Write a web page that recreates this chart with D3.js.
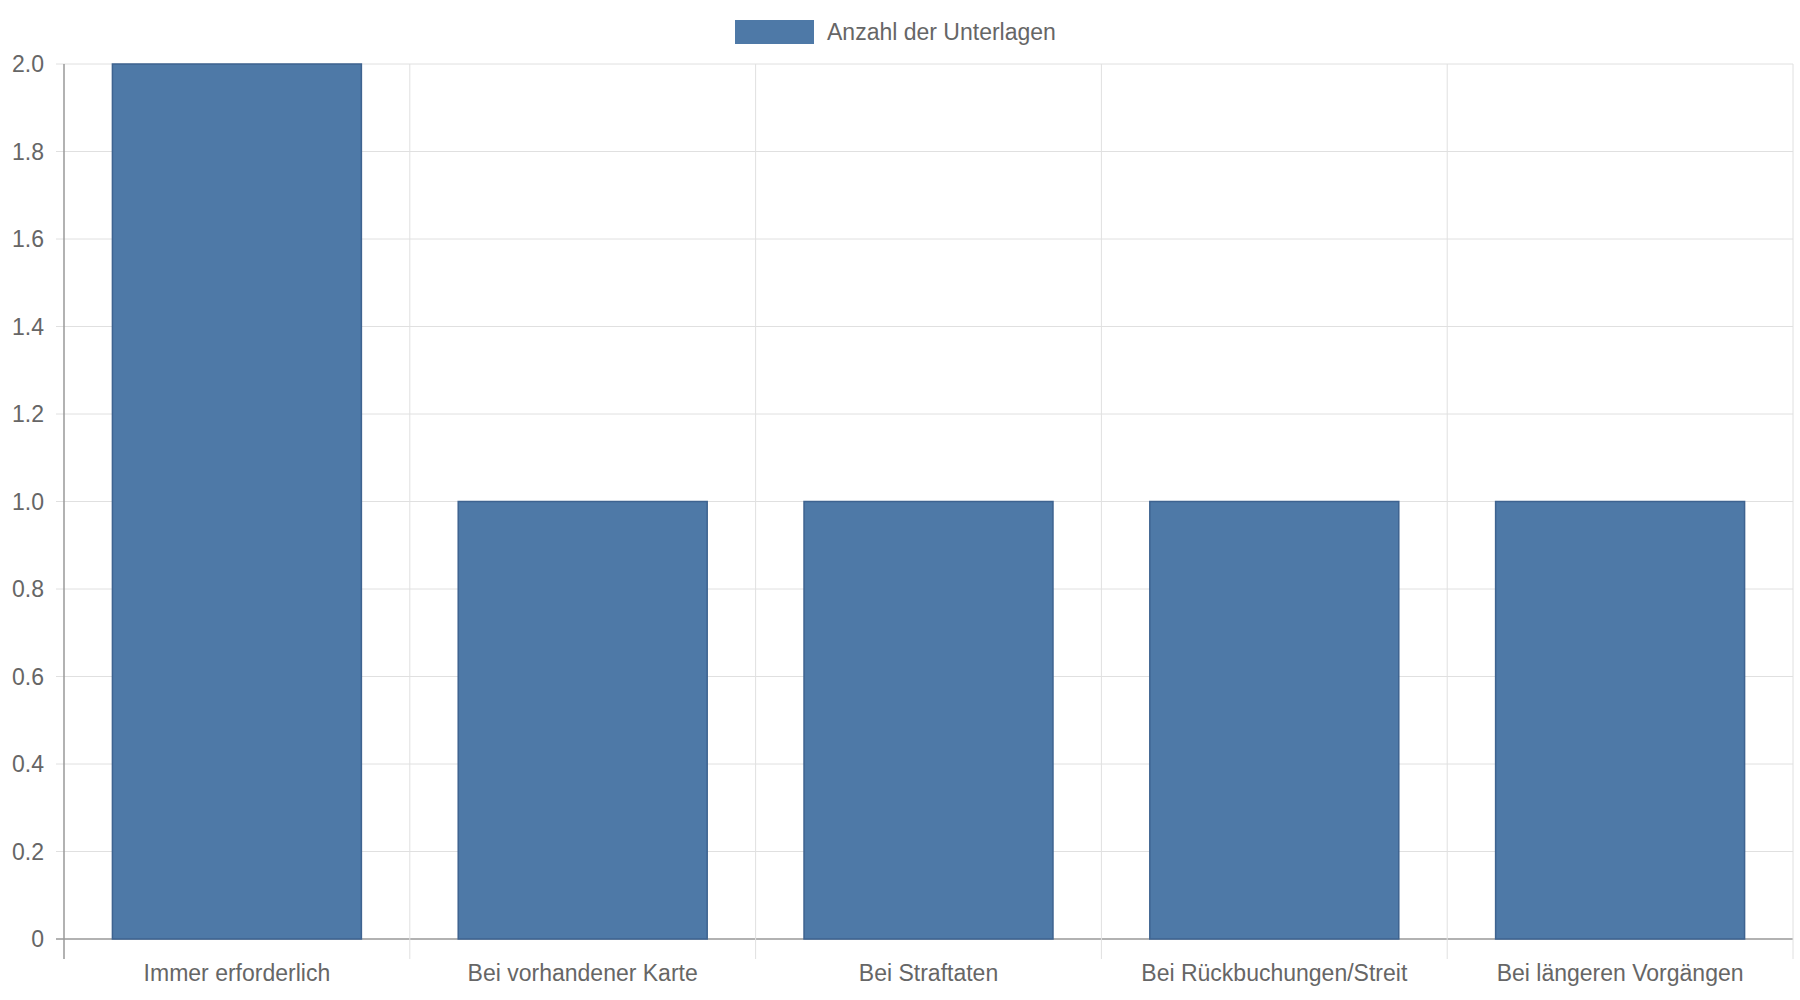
<!DOCTYPE html>
<html><head><meta charset="utf-8">
<script src="https://cdn.jsdelivr.net/npm/d3@7"></script>
<style>body{margin:0;background:#fff}text{font-family:"Liberation Sans",Arial,sans-serif;fill:#666}</style>
</head><body><svg id="c" width="1800" height="1000"></svg>
<script>
const categories=["Immer erforderlich","Bei vorhandener Karte","Bei Straftaten","Bei Rückbuchungen/Streit","Bei längeren Vorgängen"];
const values=[2,1,1,1,1];
const yTicks=[0,0.2,0.4,0.6,0.8,1.0,1.2,1.4,1.6,1.8,2.0];
const seriesName="Anzahl der Unterlagen";
const svg=d3.select("#c");
const L=64,R=1793,T=64,B=939;
const x=d3.scaleBand().domain(categories).range([L,R]);
const y=d3.scaleLinear().domain([0,2]).range([B,T]);
const g=svg.append("g");
yTicks.forEach(t=>{g.append("line").attr("x1",L-8).attr("x2",R).attr("y1",y(t)).attr("y2",y(t)).attr("stroke",t===0?"#999":"#e0e0e0").attr("stroke-width",t===0?1.5:1);
 g.append("text").attr("x",44).attr("y",y(t)).attr("dy","0.35em").attr("text-anchor","end").attr("font-size",23).text(t===0?"0":t.toFixed(1));});
categories.forEach((c,i)=>{const xx=x(c);g.append("line").attr("x1",xx).attr("x2",xx).attr("y1",T).attr("y2",B+20).attr("stroke",i===0?"#999":"#e0e0e0").attr("stroke-width",i===0?1.5:1);});
g.append("line").attr("x1",R).attr("x2",R).attr("y1",T).attr("y2",B+20).attr("stroke","#e0e0e0");
const bw=x.bandwidth()*0.72;
categories.forEach((c,i)=>{
 g.append("rect").attr("x",x(c)+(x.bandwidth()-bw)/2).attr("y",y(values[i])).attr("width",bw).attr("height",B-y(values[i])).attr("fill","#4e79a7").attr("stroke","#3e6390").attr("stroke-width",1.5);
 g.append("text").attr("x",x(c)+x.bandwidth()/2).attr("y",973).attr("dy","0.35em").attr("text-anchor","middle").attr("font-size",23).text(c);
});
svg.append("rect").attr("x",735).attr("y",20).attr("width",79).attr("height",24).attr("fill","#4e79a7");
svg.append("text").attr("x",827).attr("y",32).attr("dy","0.35em").attr("font-size",23).text(seriesName);
</script></body></html>
